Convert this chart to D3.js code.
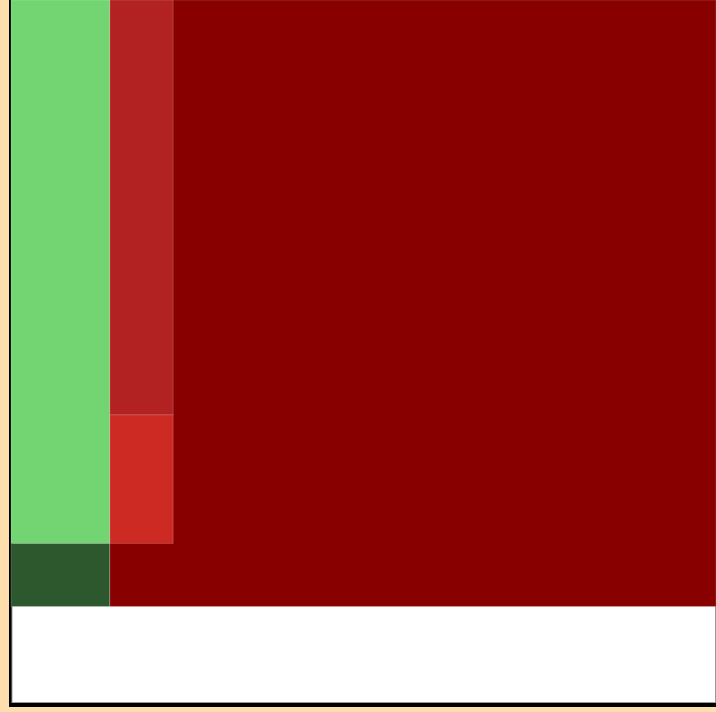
<!DOCTYPE html>
<html>
<head>
<meta charset="utf-8">
<script src="https://cdn.jsdelivr.net/npm/d3@7"></script>
<style>
  html, body { margin: 0; padding: 0; background: #ffdead; overflow: hidden; }
</style>
</head>
<body>
<div id="chart"></div>
<script>
// blocks of the mosaic, in data units (0-100 on both axes)
var names  = ["rest", "top", "mid", "left", "base"];
var xStart = [14, 14, 14, 0, 0];
var xEnd   = [100, 23, 23, 14, 14];
var yStart = [0, 31.6, 10.4, 10.4, 0];
var yEnd   = [100, 100, 31.6, 100, 10.4];
var colors = ["#880000", "#b22222", "#cc2a22", "#72d572", "#2d572c"];

var width = 716, height = 712;

var svg = d3.select("#chart").append("svg")
    .attr("width", width)
    .attr("height", height);

// frame: black shadow, white panel with thin grey edge
svg.append("rect").attr("x", 9).attr("y", -10)
    .attr("width", 720).attr("height", 717).attr("fill", "#000");
svg.append("rect").attr("x", 12).attr("y", -10)
    .attr("width", 703.5).attr("height", 712.5)
    .attr("fill", "#fff").attr("stroke", "#999").attr("stroke-width", 1);

var x = d3.scaleLinear().domain([0, 100]).range([11, 716]);
var y = d3.scaleLinear().domain([0, 100]).range([606.5, 0]);

var blocks = names.map(function(n, i) {
    return {name: n, x0: xStart[i], x1: xEnd[i], y0: yStart[i], y1: yEnd[i], color: colors[i]};
});

svg.append("g").attr("class", "blocks")
    .selectAll("rect").data(blocks)
    .enter().append("rect")
    .attr("x", function(d) { return x(d.x0); })
    .attr("y", function(d) { return y(d.y1); })
    .attr("width", function(d) { return x(d.x1) - x(d.x0); })
    .attr("height", function(d) { return y(d.y0) - y(d.y1); })
    .attr("fill", function(d) { return d.color; })
    .attr("stroke", "rgba(255,255,255,0.18)")
    .attr("stroke-width", 1);
</script>
</body>
</html>
